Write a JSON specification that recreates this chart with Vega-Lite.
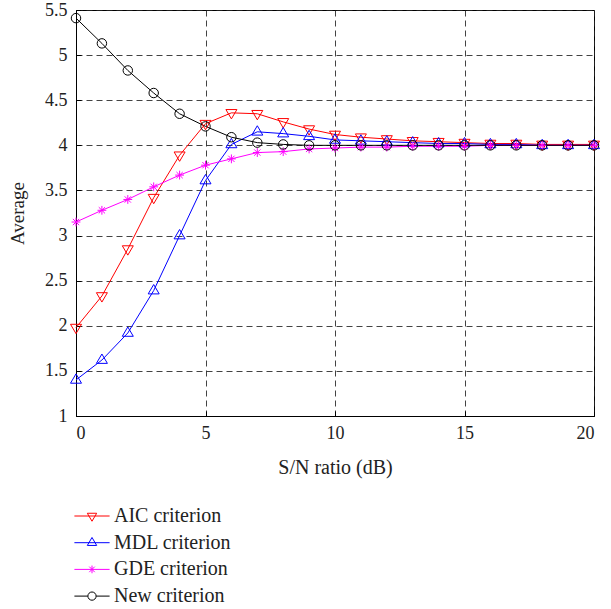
{
  "$schema": "https://vega.github.io/schema/vega-lite/v6.json",
  "autosize": "none",
  "width": 518,
  "height": 406,
  "padding": {"left": 76, "top": 10, "right": 17, "bottom": 193},
  "background": "white",
  "config": {
    "view": {"stroke": "#000000", "strokeWidth": 1},
    "font": "Liberation Serif",
    "axis": {
      "labelFont": "Liberation Serif",
      "titleFont": "Liberation Serif",
      "labelFontSize": 18,
      "titleFontSize": 20,
      "titleFontWeight": "normal",
      "labelColor": "#222",
      "titleColor": "#222",
      "grid": true,
      "gridColor": "#222",
      "gridDash": [6, 4],
      "gridOpacity": 0.85,
      "ticks": true,
      "tickSize": -5,
      "tickColor": "#000",
      "domain": true,
      "domainColor": "#000"
    },
    "legend": {
      "orient": "none",
      "legendX": 6,
      "legendY": 496,
      "padding": 0,
      "labelFont": "Liberation Serif",
      "labelFontSize": 20,
      "labelColor": "#222",
      "labelOffset": 12,
      "rowPadding": 6.7,
      "symbolSize": 121,
      "symbolStrokeWidth": 1,
      "title": null
    }
  },
  "data": {
    "values": [
      {"x":0,"series":"AIC criterion","v":1.98},{"x":1,"series":"AIC criterion","v":2.33},{"x":2,"series":"AIC criterion","v":2.85},{"x":3,"series":"AIC criterion","v":3.42},{"x":4,"series":"AIC criterion","v":3.89},{"x":5,"series":"AIC criterion","v":4.24},{"x":6,"series":"AIC criterion","v":4.36},{"x":7,"series":"AIC criterion","v":4.35},{"x":8,"series":"AIC criterion","v":4.26},{"x":9,"series":"AIC criterion","v":4.18},{"x":10,"series":"AIC criterion","v":4.12},{"x":11,"series":"AIC criterion","v":4.09},{"x":12,"series":"AIC criterion","v":4.07},{"x":13,"series":"AIC criterion","v":4.05},{"x":14,"series":"AIC criterion","v":4.04},{"x":15,"series":"AIC criterion","v":4.03},{"x":16,"series":"AIC criterion","v":4.02},{"x":17,"series":"AIC criterion","v":4.02},{"x":18,"series":"AIC criterion","v":4.01},{"x":19,"series":"AIC criterion","v":4.01},{"x":20,"series":"AIC criterion","v":4.01},
      {"x":0,"series":"MDL criterion","v":1.40},{"x":1,"series":"MDL criterion","v":1.62},{"x":2,"series":"MDL criterion","v":1.92},{"x":3,"series":"MDL criterion","v":2.39},{"x":4,"series":"MDL criterion","v":3.00},{"x":5,"series":"MDL criterion","v":3.61},{"x":6,"series":"MDL criterion","v":4.01},{"x":7,"series":"MDL criterion","v":4.15},{"x":8,"series":"MDL criterion","v":4.13},{"x":9,"series":"MDL criterion","v":4.10},{"x":10,"series":"MDL criterion","v":4.06},{"x":11,"series":"MDL criterion","v":4.05},{"x":12,"series":"MDL criterion","v":4.04},{"x":13,"series":"MDL criterion","v":4.03},{"x":14,"series":"MDL criterion","v":4.02},{"x":15,"series":"MDL criterion","v":4.02},{"x":16,"series":"MDL criterion","v":4.01},{"x":17,"series":"MDL criterion","v":4.01},{"x":18,"series":"MDL criterion","v":4.0},{"x":19,"series":"MDL criterion","v":4.0},{"x":20,"series":"MDL criterion","v":4.0},
      {"x":0,"series":"GDE criterion","v":3.15},{"x":1,"series":"GDE criterion","v":3.28},{"x":2,"series":"GDE criterion","v":3.40},{"x":3,"series":"GDE criterion","v":3.54},{"x":4,"series":"GDE criterion","v":3.67},{"x":5,"series":"GDE criterion","v":3.78},{"x":6,"series":"GDE criterion","v":3.85},{"x":7,"series":"GDE criterion","v":3.92},{"x":8,"series":"GDE criterion","v":3.93},{"x":9,"series":"GDE criterion","v":3.96},{"x":10,"series":"GDE criterion","v":3.97},{"x":11,"series":"GDE criterion","v":3.98},{"x":12,"series":"GDE criterion","v":3.98},{"x":13,"series":"GDE criterion","v":3.99},{"x":14,"series":"GDE criterion","v":3.99},{"x":15,"series":"GDE criterion","v":3.99},{"x":16,"series":"GDE criterion","v":4.0},{"x":17,"series":"GDE criterion","v":4.0},{"x":18,"series":"GDE criterion","v":4.0},{"x":19,"series":"GDE criterion","v":4.0},{"x":20,"series":"GDE criterion","v":4.0},
      {"x":0,"series":"New criterion","v":5.41},{"x":1,"series":"New criterion","v":5.13},{"x":2,"series":"New criterion","v":4.83},{"x":3,"series":"New criterion","v":4.58},{"x":4,"series":"New criterion","v":4.35},{"x":5,"series":"New criterion","v":4.21},{"x":6,"series":"New criterion","v":4.09},{"x":7,"series":"New criterion","v":4.03},{"x":8,"series":"New criterion","v":4.01},{"x":9,"series":"New criterion","v":4.0},{"x":10,"series":"New criterion","v":4.0},{"x":11,"series":"New criterion","v":4.0},{"x":12,"series":"New criterion","v":4.0},{"x":13,"series":"New criterion","v":4.0},{"x":14,"series":"New criterion","v":4.0},{"x":15,"series":"New criterion","v":4.0},{"x":16,"series":"New criterion","v":4.0},{"x":17,"series":"New criterion","v":4.0},{"x":18,"series":"New criterion","v":4.0},{"x":19,"series":"New criterion","v":4.0},{"x":20,"series":"New criterion","v":4.0}
    ]
  },
  "encoding": {
    "x": {"field": "x", "type": "quantitative", "scale": {"domain": [0, 20], "nice": false, "zero": false},
      "axis": {"values": [0, 5, 10, 15, 20], "title": "S/N ratio (dB)", "labelPadding": 13, "titlePadding": 15}},
    "y": {"field": "v", "type": "quantitative", "scale": {"domain": [1, 5.5], "nice": false, "zero": false},
      "axis": {"values": [1, 1.5, 2, 2.5, 3, 3.5, 4, 4.5, 5, 5.5], "format": "~g", "title": "Average", "titleFontSize": 19, "labelPadding": 14, "titlePadding": 17}}
  },
  "layer": [
    {
      "mark": {"type": "line", "strokeWidth": 1},
      "encoding": {
        "color": {"field": "series", "type": "nominal",
          "scale": {"domain": ["AIC criterion", "MDL criterion", "GDE criterion", "New criterion"], "range": ["#ff0000", "#0000ff", "#ff00ff", "#000000"]},
          "legend": null},
        "detail": {"field": "series"}
      }
    },
    {
      "mark": {"type": "point", "filled": false, "size": 121, "strokeWidth": 1, "opacity": 1},
      "encoding": {
        "color": {"field": "series", "type": "nominal",
          "scale": {"domain": ["AIC criterion", "MDL criterion", "GDE criterion", "New criterion"], "range": ["#ff0000", "#0000ff", "#ff00ff", "#000000"]},
          "legend": null},
        "shape": {"field": "series", "type": "nominal",
          "scale": {"domain": ["AIC criterion", "MDL criterion", "GDE criterion", "New criterion"],
            "range": ["M-1,-0.6L1,-0.6L0,1.1Z", "M-1,0.6L1,0.6L0,-1.1Z", "M-0.8,0H0.8M0,-0.8V0.8M-0.57,-0.57L0.57,0.57M-0.57,0.57L0.57,-0.57", "M0.86,0A0.86,0.86,0,1,1,-0.86,0A0.86,0.86,0,1,1,0.86,0Z"]},
          "legend": null}
      }
    },
    {
      "transform": [{"filter": "datum.x < 0"}],
      "mark": {"type": "point", "filled": false, "size": 121, "strokeWidth": 1, "opacity": 1},
      "encoding": {
        "color": {"field": "series", "type": "nominal",
          "scale": {"domain": ["AIC criterion", "MDL criterion", "GDE criterion", "New criterion"], "range": ["#ff0000", "#0000ff", "#ff00ff", "#000000"]}},
        "shape": {"field": "series", "type": "nominal",
          "scale": {"domain": ["AIC criterion", "MDL criterion", "GDE criterion", "New criterion"],
            "range": ["M-3.2,0H3.2M-0.85,-0.5L0.85,-0.5L0,0.95Z", "M-3.2,0H3.2M-0.85,0.5L0.85,0.5L0,-0.95Z", "M-3.2,0H3.2M0,-0.7V0.7M-0.5,-0.5L0.5,0.5M-0.5,0.5L0.5,-0.5", "M-3.2,0H-0.75M0.75,0H3.2M0.75,0A0.75,0.75,0,1,1,-0.75,0A0.75,0.75,0,1,1,0.75,0Z"]}}
      }
    }
  ],
  "resolve": {"scale": {"shape": "independent", "color": "independent"}}
}
